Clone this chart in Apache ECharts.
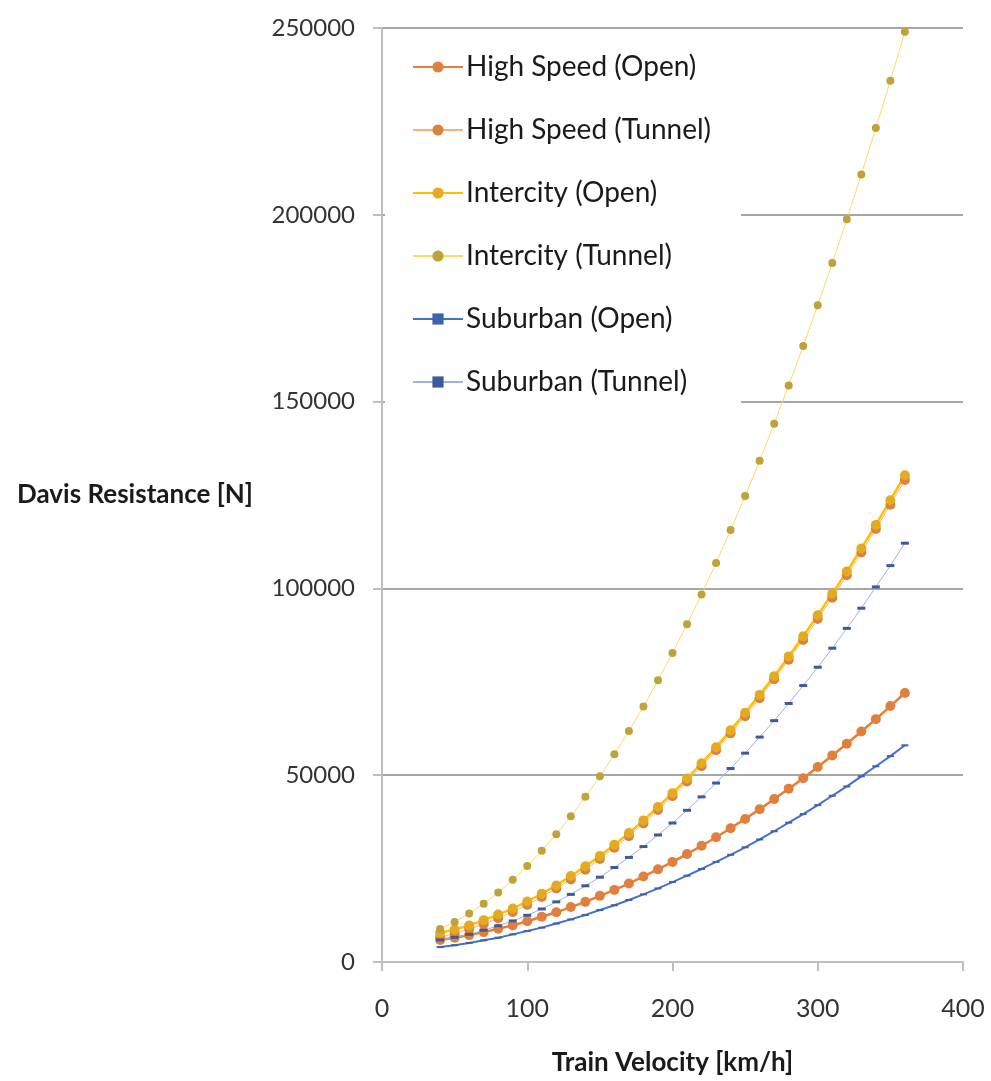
<!DOCTYPE html>
<html>
<head>
    <meta charset="utf-8">
    <title>Davis Resistance</title>
    <script src="https://cdn.jsdelivr.net/npm/echarts@6/dist/echarts.min.js"></script>
    <style>
        html, body { margin: 0; padding: 0; background: #fff; }
        #main { width: 991px; height: 1081px; }
    </style>
</head>
<body>
<div id="main"></div>
<script type="text/javascript">
    // train velocity [km/h]
    var velocity = [40, 50, 60, 70, 80, 90, 100, 110, 120, 130, 140, 150, 160, 170, 180, 190, 200,
        210, 220, 230, 240, 250, 260, 270, 280, 290, 300, 310, 320, 330, 340, 350, 360];

    // Davis resistance [N]
    var highSpeedOpen = [5900, 6500, 7200, 8000, 8900, 9800, 10900, 12100, 13300, 14700, 16100, 17700, 19300,
        21000, 22900, 24800, 26800, 28900, 31100, 33400, 35800, 38300, 40900, 43600, 46400, 49200, 52200,
        55300, 58400, 61700, 65000, 68500, 72000];
    var highSpeedTunnel = [6600, 7600, 8800, 10100, 11700, 13400, 15300, 17400, 19700, 22100, 24700, 27600, 30600,
        33700, 37100, 40700, 44400, 48300, 52400, 56700, 61200, 65800, 70600, 75700, 80900, 86200, 91800,
        97500, 103500, 109600, 115900, 122400, 129000];
    var intercityOpen = [7800, 8700, 9800, 11200, 12700, 14300, 16200, 18300, 20500, 23000, 25600, 28400, 31400,
        34500, 37900, 41500, 45200, 49100, 53200, 57500, 62000, 66700, 71500, 76500, 81800, 87200, 92800,
        98600, 104500, 110700, 117000, 123600, 130300];
    var intercityTunnel = [8800, 10700, 13000, 15600, 18600, 22000, 25700, 29800, 34200, 39000, 44200, 49700, 55600,
        61800, 68400, 75400, 82700, 90400, 98400, 106800, 115600, 124700, 134200, 144100, 154300, 164900, 175800,
        187100, 198800, 210800, 223200, 235900, 249000];
    var suburbanOpen = [4000, 4500, 5100, 5800, 6500, 7400, 8300, 9200, 10300, 11400, 12600, 13900, 15200,
        16600, 18100, 19700, 21400, 23100, 24900, 26800, 28700, 30700, 32800, 35000, 37300, 39600, 42000,
        44500, 47000, 49700, 52400, 55100, 58000];
    var suburbanTunnel = [5900, 6600, 7400, 8500, 9700, 11000, 12500, 14200, 16100, 18100, 20400, 22700, 25300,
        28000, 30900, 34000, 37200, 40600, 44200, 47900, 51800, 55900, 60200, 64600, 69200, 74000, 78900,
        84000, 89300, 94700, 100400, 106100, 112100];

    var seriesNames = ['High Speed (Open)', 'High Speed (Tunnel)', 'Intercity (Open)',
        'Intercity (Tunnel)', 'Suburban (Open)', 'Suburban (Tunnel)'];

    function pairs(values) {
        return velocity.map(function (v, i) { return [v, values[i]]; });
    }

    var FONT = 'Lato';

    var dom = document.getElementById('main');
    var myChart = echarts.init(dom, null, { renderer: 'canvas' });

    var option = {
        backgroundColor: '#ffffff',
        animation: false,
        grid: { left: 382, right: 28, top: 28, bottom: 119, containLabel: false },
        legend: {
            orient: 'vertical',
            left: 385,
            top: 30,
            padding: [23, 30, 14, 27],
            backgroundColor: '#ffffff',
            itemWidth: 50,
            itemHeight: 14,
            itemGap: 35,
            textStyle: { fontFamily: FONT, fontSize: 28, color: '#1a1a1a', lineHeight: 28, padding: [0, 0, 0, -2] },
            data: seriesNames
        },
        xAxis: {
            type: 'value',
            min: 0,
            max: 400,
            interval: 100,
            name: 'Train Velocity [km/h]',
            nameLocation: 'middle',
            nameGap: 88,
            nameTextStyle: { fontFamily: FONT, fontSize: 26, fontWeight: 'bold', color: '#1a1a1a' },
            axisLine: { lineStyle: { color: '#BFBFBF', width: 2 } },
            axisTick: { show: true, length: 9, lineStyle: { color: '#BFBFBF', width: 2 } },
            axisLabel: { fontFamily: FONT, fontSize: 25, color: '#333333', margin: 34 },
            splitLine: { show: false }
        },
        yAxis: {
            type: 'value',
            min: 0,
            max: 250000,
            interval: 50000,
            name: 'Davis Resistance [N]',
            nameLocation: 'middle',
            nameRotate: 0,
            nameGap: 129,
            nameTextStyle: { fontFamily: FONT, fontSize: 26, fontWeight: 'bold', color: '#1a1a1a' },
            axisLine: { show: true, lineStyle: { color: '#BFBFBF', width: 2 } },
            axisTick: { show: true, length: 9, lineStyle: { color: '#BFBFBF', width: 2 } },
            axisLabel: {
                fontFamily: FONT, fontSize: 24, color: '#333333', margin: 27,
                formatter: function (v) { return String(v); }
            },
            splitLine: { show: true, lineStyle: { color: '#A6A6A6', width: 2 } }
        },
        series: [
            {
                name: seriesNames[0],
                type: 'line',
                data: pairs(highSpeedOpen),
                symbol: 'circle',
                symbolSize: 10,
                itemStyle: { color: '#E0803E' },
                lineStyle: { color: '#ED7D31', width: 2.5 }
            },
            {
                name: seriesNames[1],
                type: 'line',
                data: pairs(highSpeedTunnel),
                symbol: 'circle',
                symbolSize: 10,
                itemStyle: { color: '#D8843F' },
                lineStyle: { color: '#F4B183', width: 1 }
            },
            {
                name: seriesNames[2],
                type: 'line',
                data: pairs(intercityOpen),
                symbol: 'circle',
                symbolSize: 10,
                itemStyle: { color: '#E3AA22' },
                lineStyle: { color: '#FFC000', width: 2.5 }
            },
            {
                name: seriesNames[3],
                type: 'line',
                data: pairs(intercityTunnel),
                symbol: 'circle',
                symbolSize: 8,
                itemStyle: { color: '#BFA23A' },
                lineStyle: { color: '#FFD966', width: 1 }
            },
            {
                name: seriesNames[4],
                type: 'line',
                data: pairs(suburbanOpen),
                symbol: 'rect',
                symbolSize: [7, 2],
                itemStyle: { color: '#3E63AE' },
                lineStyle: { color: '#4472C4', width: 2 }
            },
            {
                name: seriesNames[5],
                type: 'line',
                data: pairs(suburbanTunnel),
                symbol: 'rect',
                symbolSize: [8, 3],
                itemStyle: { color: '#3F5A9C' },
                lineStyle: { color: '#9DB4E0', width: 1 }
            }
        ]
    };

    myChart.setOption(option);
    window.addEventListener('resize', myChart.resize);
</script>
</body>
</html>
